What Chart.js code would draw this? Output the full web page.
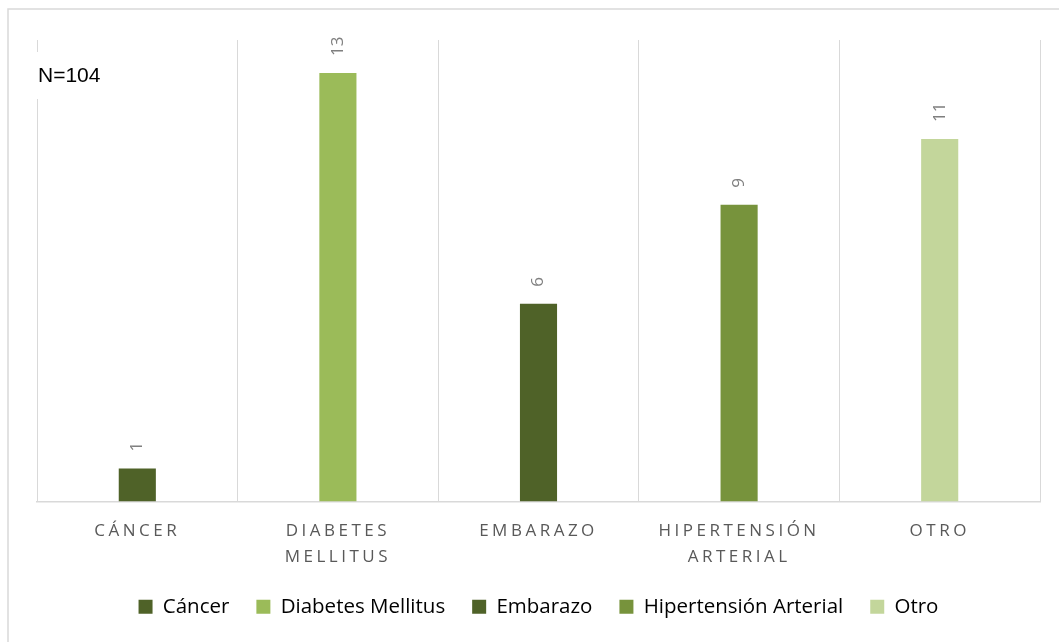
<!DOCTYPE html>
<html>
<head>
<meta charset="utf-8">
<script src="https://cdn.jsdelivr.net/npm/chart.js@4"></script>
<style>
  html, body { margin: 0; padding: 0; background: #fff; }
  #wrap { width: 1059px; height: 642px; }
</style>
</head>
<body>
<div id="wrap"><canvas id="chart"></canvas></div>
<script>
const categories = ['Cáncer', 'Diabetes Mellitus', 'Embarazo', 'Hipertensión Arterial', 'Otro'];
const values = [1, 13, 6, 9, 11];
const barColors = ['#4F6228', '#9BBB59', '#4F6228', '#77933C', '#C3D69B'];
const note = 'N=104';

// value labels, turned on their side above each bar
const valueLabels = {
    id: 'valueLabels',
    afterDatasetsDraw(chart) {
        const ctx = chart.ctx;
        const meta = chart.getDatasetMeta(0);
        ctx.save();
        ctx.font = '17px "Open Sans"';
        ctx.fillStyle = '#7F7F7F';
        ctx.textAlign = 'left';
        ctx.textBaseline = 'middle';
        meta.data.forEach(function (bar, i) {
            ctx.save();
            ctx.translate(bar.x, bar.y - 17);
            ctx.rotate(-Math.PI / 2);
            ctx.fillText(String(values[i]), 0, 0);
            ctx.restore();
        });
        ctx.restore();
        // spaced-out letters for the category labels drawn next
        ctx.letterSpacing = '3.5px';
    },
    afterDraw(chart) {
        const ctx = chart.ctx;
        ctx.letterSpacing = '0px';
        ctx.save();
        // note box
        ctx.fillStyle = '#fff';
        ctx.fillRect(30, 52, 80, 47);
        ctx.fillStyle = '#000';
        ctx.font = '21px "Liberation Sans"';
        ctx.textBaseline = 'middle';
        ctx.fillText(note, 38, 76);
        // chart frame
        ctx.strokeStyle = '#D9D9D9';
        ctx.lineWidth = 1.5;
        ctx.strokeRect(8, 9, 1200, 800);
        ctx.restore();
    }
};

const data = {
    labels: categories,
    datasets: [{
        data: values,
        backgroundColor: barColors,
        borderWidth: 0,
        barPercentage: 0.185,
        categoryPercentage: 1
    }]
};

const config = {
    type: 'bar',
    data: data,
    options: {
        responsive: true,
        maintainAspectRatio: false,
        animation: false,
        layout: { padding: { left: 37, right: 19, top: 40, bottom: 15 } },
        scales: {
            x: {
                grid: { display: true, offset: true, color: '#D9D9D9', lineWidth: 1, drawTicks: false },
                border: { display: true, color: '#D9D9D9', width: 1.5 },
                afterFit: function (scale) {
                    scale.height -= 18;
                },
                ticks: {
                    z: 1,
                    padding: 17,
                    maxRotation: 0,
                    autoSkip: false,
                    color: '#595959',
                    font: { family: '"Open Sans"', size: 17, lineHeight: 1.53 },
                    callback: function (value, index) {
                        const words = categories[index].toUpperCase().split(' ');
                        return words.length > 1 ? words : words[0];
                    }
                }
            },
            y: {
                display: false,
                min: 0,
                max: 14
            }
        },
        plugins: {
            legend: {
                position: 'bottom',
                labels: {
                    boxWidth: 14,
                    boxHeight: 14,
                    padding: 27,
                    color: '#595959',
                    font: { family: '"Open Sans"', size: 20.5 },
                    generateLabels: function (chart) {
                        return categories.map(function (c, i) {
                            return { text: c, fillStyle: barColors[i], strokeStyle: barColors[i], lineWidth: 0, index: i };
                        });
                    }
                }
            },
            tooltip: { enabled: false }
        }
    },
    plugins: [valueLabels]
};

new Chart(document.getElementById('chart'), config);
</script>
</body>
</html>
